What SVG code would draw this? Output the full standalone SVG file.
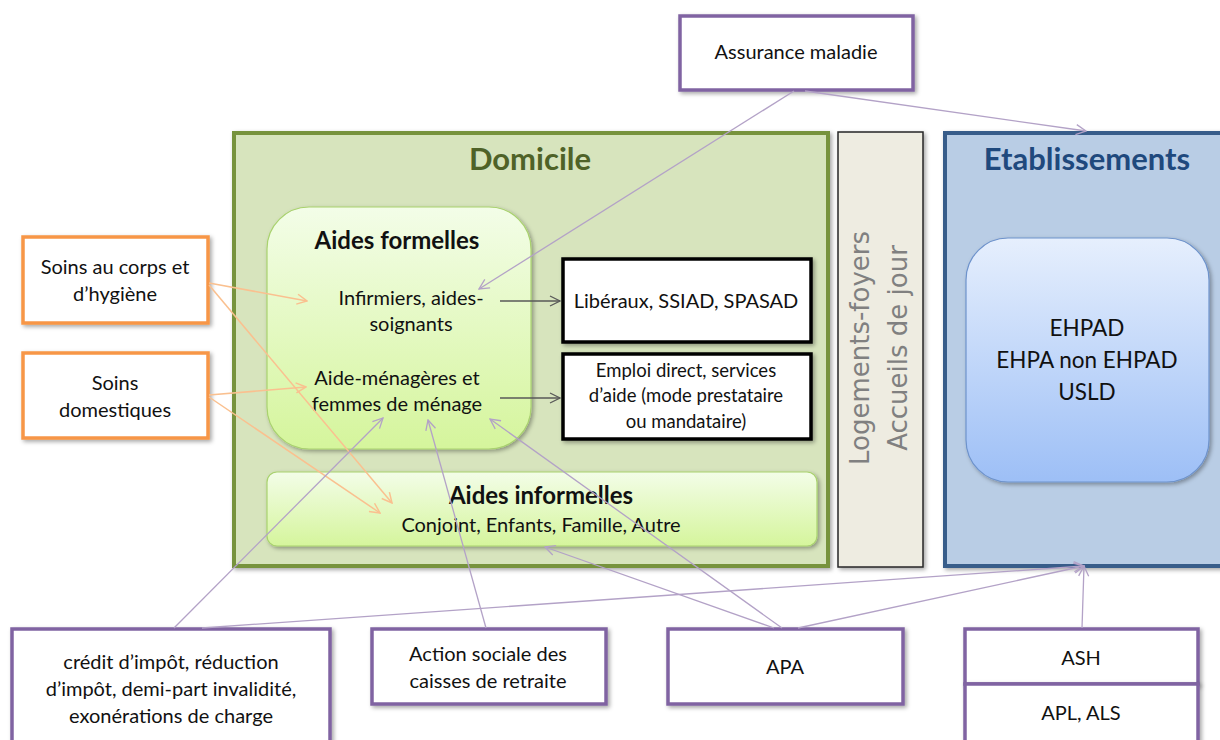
<svg xmlns="http://www.w3.org/2000/svg" width="1220" height="740" viewBox="0 0 1220 740">
<style>
text{font-family:Lato,"Open Sans","Liberation Sans",sans-serif;fill:#111;text-anchor:middle}
.t{font-size:20px}
.te{font-size:18.5px}
.tb{font-size:24px;font-weight:bold}
.title{font-size:31px;font-weight:bold}
.pbox{fill:#fff;stroke:#8064A2;stroke-width:3.5}
.obox{fill:#fff;stroke:#F79646;stroke-width:3.5}
.kbox{fill:#fff;stroke:#000;stroke-width:3.5}
.lp{fill:none;stroke:#B3A2C7;stroke-width:1.3}
.lo{fill:none;stroke:#FAC08F;stroke-width:1.5}
.lg{fill:none;stroke:#595959;stroke-width:1.3}
.rot{font-family:"DejaVu Sans",Verdana,sans-serif;font-size:26px;fill:#808080}
</style>
<defs>
<filter id="sh" x="-10%" y="-10%" width="130%" height="130%">
<feDropShadow dx="2" dy="2" stdDeviation="2" flood-color="#000" flood-opacity="0.35"/>
</filter>
<linearGradient id="gg" x1="0" y1="0" x2="0" y2="1">
<stop offset="0" stop-color="#F3FDE8"/>
<stop offset="1" stop-color="#D5F59C"/>
</linearGradient>
<linearGradient id="gb" x1="0" y1="0" x2="0" y2="1">
<stop offset="0" stop-color="#E6EFFD"/>
<stop offset="1" stop-color="#9DBFF6"/>
</linearGradient>
<marker id="mp" viewBox="0 0 12 12" refX="11" refY="6" markerWidth="12" markerHeight="12" markerUnits="userSpaceOnUse" orient="auto">
<path d="M1,1 L11,6 L1,11" fill="none" stroke="#B3A2C7" stroke-width="1.3"/>
</marker>
<marker id="mo" viewBox="0 0 12 12" refX="11" refY="6" markerWidth="12" markerHeight="12" markerUnits="userSpaceOnUse" orient="auto">
<path d="M1,1 L11,6 L1,11" fill="none" stroke="#FAC08F" stroke-width="1.5"/>
</marker>
<marker id="mg" viewBox="0 0 12 12" refX="11" refY="6" markerWidth="12" markerHeight="12" markerUnits="userSpaceOnUse" orient="auto">
<path d="M1,1 L11,6 L1,11" fill="none" stroke="#595959" stroke-width="1.3"/>
</marker>
</defs>
<rect width="1220" height="740" fill="#fff"/>

<g id="domicile">
<rect x="234" y="133" width="594" height="433" fill="#D7E4BD" stroke="#77933C" stroke-width="4" filter="url(#sh)"/>
<text x="530" y="170" class="title" style="fill:#4F6228">Domicile</text>
</g>

<g id="logements">
<rect x="838" y="132" width="85" height="435" fill="#EEECE1" stroke="#262626" stroke-width="1.5" filter="url(#sh)"/>
<text class="rot" transform="translate(869,348) rotate(-90)">Logements-foyers</text>
<text class="rot" transform="translate(907,348) rotate(-90)">Accueils de jour</text>
</g>

<g id="etablissements">
<rect x="945" y="133" width="285" height="433" fill="#B9CDE5" stroke="#385D8A" stroke-width="4" filter="url(#sh)"/>
<text x="1087" y="170" class="title" style="fill:#1F497D">Etablissements</text>
</g>

<g id="ehpad">
<rect x="966" y="238" width="243" height="244" rx="42" fill="url(#gb)" stroke="#6E93CC" stroke-width="1.2" filter="url(#sh)"/>
<text x="1087" y="336" style="font-size:22.5px">EHPAD</text>
<text x="1087" y="368" style="font-size:22.5px">EHPA non EHPAD</text>
<text x="1087" y="400" style="font-size:22.5px">USLD</text>
</g>

<g id="aides-formelles">
<rect x="267" y="207" width="264" height="242" rx="42" fill="url(#gg)" stroke="#A9D26E" stroke-width="1.2" filter="url(#sh)"/>
<text x="397" y="249" class="tb">Aides formelles</text>
<text x="411" y="305" class="t">Infirmiers, aides-</text>
<text x="411" y="331" class="t">soignants</text>
<text x="397" y="385" class="t">Aide-ménagères et</text>
<text x="397" y="411" class="t">femmes de ménage</text>
</g>

<g id="aides-informelles">
<rect x="267" y="472" width="550" height="74" rx="10" fill="url(#gg)" stroke="#A9D26E" stroke-width="1.2" filter="url(#sh)"/>
<text x="541" y="504" class="tb">Aides informelles</text>
<text x="541" y="532" class="t">Conjoint, Enfants, Famille, Autre</text>
</g>

<g id="liberaux">
<rect x="563" y="259" width="248" height="83" class="kbox" filter="url(#sh)"/>
<text x="686" y="308" class="t">Libéraux, SSIAD, SPASAD</text>
</g>

<g id="emploi-direct">
<rect x="563" y="354" width="248" height="85" class="kbox" filter="url(#sh)"/>
<text x="686" y="377" class="te">Emploi direct, services</text>
<text x="686" y="402" class="te">d’aide (mode prestataire</text>
<text x="686" y="428" class="te">ou mandataire)</text>
</g>

<g id="soins-corps">
<rect x="23" y="237" width="185" height="86" class="obox" filter="url(#sh)"/>
<text x="115" y="274" class="t">Soins au corps et</text>
<text x="115" y="301" class="t">d’hygiène</text>
</g>

<g id="soins-domestiques">
<rect x="23" y="353" width="185" height="85" class="obox" filter="url(#sh)"/>
<text x="115" y="390" class="t">Soins</text>
<text x="115" y="417" class="t">domestiques</text>
</g>

<g id="assurance-maladie">
<rect x="680" y="16" width="233" height="74" class="pbox" filter="url(#sh)"/>
<text x="796" y="59" class="t">Assurance maladie</text>
</g>

<g id="credit-impot">
<rect x="12" y="629" width="318" height="120" class="pbox" filter="url(#sh)"/>
<text x="171" y="669" class="t">crédit d’impôt, réduction</text>
<text x="171" y="696" class="t">d’impôt,  demi-part invalidité,</text>
<text x="171" y="723" class="t">exonérations de charge</text>
</g>

<g id="action-sociale">
<rect x="372" y="629" width="234" height="75" class="pbox" filter="url(#sh)"/>
<text x="488" y="661" class="t">Action sociale des</text>
<text x="488" y="688" class="t">caisses de retraite</text>
</g>

<g id="apa">
<rect x="668" y="629" width="235" height="75" class="pbox" filter="url(#sh)"/>
<text x="785" y="674" class="t">APA</text>
</g>

<g id="ash-apl">
<rect x="965" y="629" width="233" height="55" class="pbox" filter="url(#sh)"/>
<rect x="965" y="684" width="233" height="60" class="pbox" filter="url(#sh)"/>
<text x="1081" y="665" class="t">ASH</text>
<text x="1081" y="720" class="t">APL, ALS</text>
</g>

<g id="connectors">
<line x1="500" y1="301" x2="560" y2="301" class="lg" marker-end="url(#mg)"/>
<line x1="500" y1="398" x2="560" y2="398" class="lg" marker-end="url(#mg)"/>
<line x1="209" y1="283" x2="307" y2="301" class="lo" marker-end="url(#mo)"/>
<line x1="209" y1="285" x2="392" y2="503" class="lo" marker-end="url(#mo)"/>
<line x1="209" y1="395" x2="306" y2="387" class="lo" marker-end="url(#mo)"/>
<line x1="209" y1="397" x2="380" y2="513" class="lo" marker-end="url(#mo)"/>
<line x1="794" y1="91" x2="479" y2="289" class="lp" marker-end="url(#mp)"/>
<line x1="805" y1="91" x2="1086" y2="131" class="lp" marker-end="url(#mp)"/>
<line x1="174" y1="628" x2="383" y2="418" class="lp" marker-end="url(#mp)"/>
<line x1="202" y1="628" x2="1084" y2="566" class="lp" marker-end="url(#mp)"/>
<line x1="486" y1="628" x2="428" y2="420" class="lp" marker-end="url(#mp)"/>
<line x1="782" y1="628" x2="490" y2="419" class="lp" marker-end="url(#mp)"/>
<line x1="774" y1="628" x2="545" y2="547" class="lp" marker-end="url(#mp)"/>
<line x1="798" y1="628" x2="1084" y2="566" class="lp" marker-end="url(#mp)"/>
<line x1="1082" y1="628" x2="1084" y2="566" class="lp" marker-end="url(#mp)"/>
</g>
</svg>
